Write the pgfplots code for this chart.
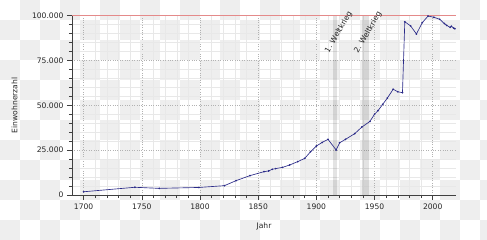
\documentclass[border=0pt]{standalone}
\usepackage{pgfplots}
\pgfplotsset{compat=1.18}
\usepackage{fontspec}
\setmainfont{DejaVu Sans}
\definecolor{checker}{HTML}{EEEEEE}
\definecolor{linecol}{HTML}{2A2A88}
\definecolor{refred}{HTML}{E48A8A}
\newcommand{\tlfont}{\fontsize{7.6bp}{9bp}\selectfont}
\begin{document}
\begin{tikzpicture}
\path[use as bounding box] (-72bp,-45bp) rectangle (415bp,195bp);
\begin{scope}[shift={(-72bp,195bp)}, x=20bp, y=-20bp]
\foreach \r in {0,...,11}{\foreach \c in {0,...,24}{%
 \pgfmathtruncatemacro\s{mod(\r+\c,2)}%
 \ifnum\s=1 \fill[checker] (\c,\r) rectangle ++(1,1);\fi}}
\end{scope}
\begin{axis}[at={(0,0)}, anchor=south west, scale only axis,
 width=384bp, height=179.5bp,
 xmin=1690, xmax=2020, ymin=0, ymax=100000,
 axis lines*=left, axis line style={black!75, line width=0.5bp},
 xtick={1700,1750,1800,1850,1900,1950,2000}, minor x tick num=4,
 xticklabels={1700,1750,1800,1850,1900,1950,2000},
 ytick={0,25000,50000,75000,100000}, minor y tick num=4,
 yticklabels={0,25.000,50.000,75.000,100.000},
 tick align=outside, major tick length=5bp, minor tick length=3bp,
 tick style={black!75, line width=0.5bp},
 grid=both, major grid style={dotted, black!30, line width=0.5bp},
 minor grid style={black!9, line width=0.3bp},
 scaled y ticks=false,
 ticklabel style={font=\tlfont, text=black!85},
 xlabel=Jahr, ylabel=Einwohnerzahl,
 label style={font=\tlfont, text=black!85},
 xlabel style={at={(axis description cs:0.5,-0.1755)}, anchor=center},
 ylabel style={at={(axis description cs:-0.1497,0.5)}, anchor=center},
 clip=false]
\fill[black, opacity=0.11] (axis cs:1914,0) rectangle (axis cs:1918,100000);
\fill[black, opacity=0.11] (axis cs:1939,0) rectangle (axis cs:1945,100000);
\addplot[refred, line width=0.5bp, forget plot] coordinates {(1690,100000) (2020,100000)};
\addplot[linecol, line width=0.65bp, mark=*, mark size=0.5bp] coordinates {
(1700,1800) (1744,4300) (1765,3700) (1799,4200) (1821,5200) (1831,8000)
(1843,10800) (1855,13000) (1859,13400) (1862,14300) (1865,14700) (1871,15400)
(1877,16700) (1884,18600) (1890,20400) (1895,24100) (1900,27300) (1905,29300)
(1910,31000) (1917,25100) (1920,29100) (1925,31000) (1933,34200) (1939,37800)
(1946,41000) (1950,45000) (1953,47000) (1957,50500) (1961,54000) (1966,58900)
(1970,57500) (1974,57000) (1976,96500) (1981,94200) (1986,89700) (1991,96000)
(1996,99700) (2001,99000) (2006,97900) (2010,95500) (2012,94500) (2015,93400)
(2016,94000) (2018,93000) (2019,92600)};
\node[rotate=60, font=\tlfont, text=black!85] at (axis cs:1919.2,90800) {1. Weltkrieg};
\node[rotate=60, font=\tlfont, text=black!85] at (axis cs:1944.4,90500) {2. Weltkrieg};
\end{axis}
\end{tikzpicture}
\end{document}
